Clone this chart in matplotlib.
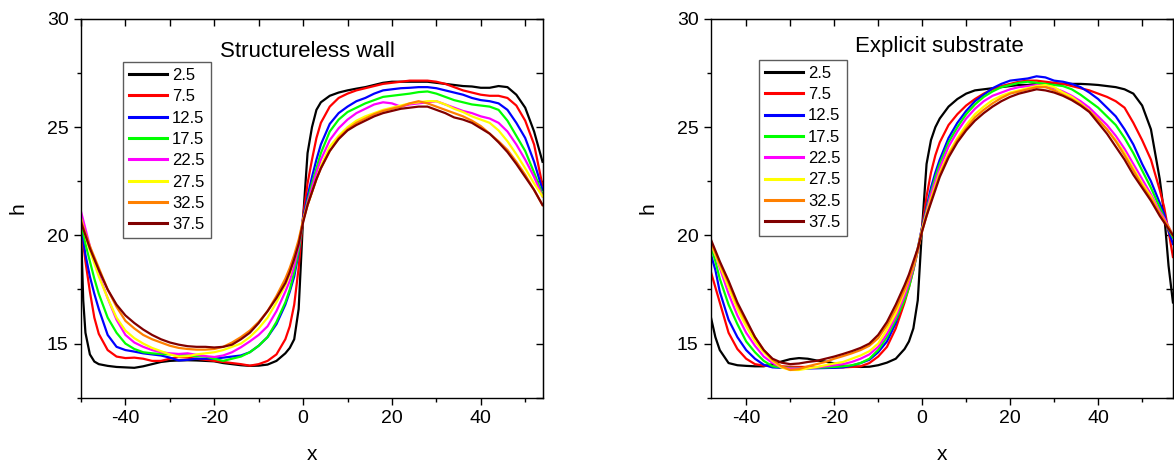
import matplotlib
matplotlib.use("Agg")
import matplotlib.pyplot as plt
from matplotlib.ticker import MultipleLocator

plt.rcParams['font.family'] = ['Liberation Sans', 'DejaVu Sans']
plt.rcParams['axes.unicode_minus'] = False

labels = ["2.5", "7.5", "12.5", "17.5", "22.5", "27.5", "32.5", "37.5"]
colors = ["#000000", "#ff0000", "#0000ff", "#00ff00", "#ff00ff", "#ffff00", "#ff8000", "#800000"]

# ---- structureless wall ----
x_wall = [-50, -49.5, -49, -48, -47, -46, -44, -42, -40, -38, -36, -34, -32, -30, -28, -26, -24, -22, -20,
          -18, -16, -14, -12, -10, -8, -6, -4, -3, -2, -1, 0, 1, 2, 3, 4, 6, 8, 10, 12, 14, 16, 18, 20,
          22, 24, 26, 28, 30, 32, 34, 36, 38, 40, 42, 44, 46, 48, 50, 52, 53.9]

wall_25 = [20.3, 17.0, 15.5, 14.5, 14.17, 14.05, 13.97, 13.92, 13.9, 13.88, 13.95, 14.05, 14.15, 14.2, 14.22,
           14.23, 14.22, 14.2, 14.18, 14.1, 14.05, 14.0, 13.97, 13.98, 14.03, 14.2, 14.55, 14.8, 15.2, 16.6,
           20.8, 23.8, 25.0, 25.8, 26.15, 26.45, 26.6, 26.7, 26.78, 26.85, 26.95, 27.05, 27.1, 27.1, 27.1,
           27.1, 27.1, 27.05, 27.0, 26.95, 26.9, 26.88, 26.82, 26.82, 26.9, 26.85, 26.5, 25.9, 24.8, 23.4]
wall_75 = [20.4, 19.6, 18.8, 17.4, 16.2, 15.45, 14.7, 14.4, 14.33, 14.35, 14.3, 14.2, 14.2, 14.3, 14.38,
           14.35, 14.3, 14.25, 14.2, 14.15, 14.1, 14.05, 13.98, 14.05, 14.2, 14.5, 15.2, 15.8, 16.8, 18.5,
           20.9, 22.4, 23.5, 24.5, 25.2, 25.95, 26.35, 26.55, 26.7, 26.8, 26.9, 27.0, 27.05, 27.1, 27.15,
           27.15, 27.15, 27.1, 27.0, 26.85, 26.7, 26.6, 26.5, 26.45, 26.45, 26.35, 26.0, 25.3, 24.2, 22.3]
wall_125 = [20.6, 19.8, 19.1, 18.1, 17.3, 16.6, 15.4, 14.85, 14.7, 14.63, 14.55, 14.5, 14.45, 14.35, 14.22,
            14.25, 14.3, 14.3, 14.3, 14.35, 14.4, 14.45, 14.6, 14.9, 15.3, 15.9, 16.8, 17.4, 18.1, 19.2,
            20.8, 21.8, 22.7, 23.5, 24.2, 25.15, 25.65, 25.95, 26.2, 26.35, 26.55, 26.7, 26.75, 26.8, 26.82,
            26.85, 26.85, 26.8, 26.7, 26.6, 26.5, 26.35, 26.25, 26.2, 26.1, 25.8, 25.2, 24.5, 23.4, 22.1]
wall_175 = [20.6, 20.1, 19.6, 18.8, 18.0, 17.3, 16.2, 15.5, 15.0, 14.75, 14.6, 14.55, 14.52, 14.5, 14.48,
            14.45, 14.42, 14.4, 14.3, 14.2, 14.3, 14.4, 14.6, 14.9, 15.3, 16.0, 16.9, 17.5, 18.3, 19.3,
            20.7, 21.6, 22.4, 23.1, 23.8, 24.8, 25.35, 25.7, 25.9, 26.1, 26.25, 26.4, 26.45, 26.5, 26.55,
            26.62, 26.65, 26.55, 26.4, 26.25, 26.15, 26.05, 26.0, 25.95, 25.8, 25.3, 24.6, 23.9, 22.9, 21.9]
wall_225 = [21.1, 20.7, 20.3, 19.5, 18.8, 18.2, 17.1, 16.1, 15.4, 15.05, 14.85, 14.7, 14.6, 14.55, 14.52,
            14.55, 14.48, 14.42, 14.38, 14.45, 14.6, 14.83, 15.1, 15.4, 15.8, 16.5, 17.4, 17.9, 18.6, 19.5,
            20.7, 21.5, 22.2, 22.9, 23.5, 24.4, 24.95, 25.35, 25.65, 25.85, 26.05, 26.15, 26.1, 25.95, 26.05,
            26.1, 26.15, 26.2, 26.05, 25.9, 25.75, 25.65, 25.5, 25.4, 25.2, 24.8, 24.2, 23.5, 22.7, 21.8]
wall_275 = [20.8, 20.4, 20.0, 19.3, 18.7, 18.1, 17.1, 16.2, 15.6, 15.25, 15.0, 14.8, 14.65, 14.5, 14.4,
            14.42, 14.5, 14.55, 14.6, 14.7, 14.85, 15.0, 15.3, 15.7, 16.2, 16.9, 17.7, 18.2, 18.9, 19.7,
            20.7, 21.4, 22.0, 22.6, 23.2, 24.1, 24.6, 25.0, 25.3, 25.5, 25.65, 25.8, 25.9, 26.0, 26.1,
            26.15, 26.2, 26.2, 26.05, 25.85, 25.7, 25.5, 25.35, 25.2, 24.85, 24.35, 23.75, 23.1, 22.4, 21.8]
wall_325 = [20.7, 20.4, 20.1, 19.5, 19.0, 18.5, 17.5, 16.7, 16.05, 15.7, 15.4, 15.2, 15.05, 14.9, 14.8,
            14.75, 14.72, 14.72, 14.75, 14.85, 15.05, 15.3, 15.6, 16.0, 16.5, 17.2, 18.0, 18.5, 19.1, 19.8,
            20.7, 21.4, 22.0, 22.6, 23.1, 23.9, 24.5, 24.9, 25.2, 25.4, 25.6, 25.75, 25.85, 25.95, 26.1,
            26.2, 26.1, 25.95, 25.8, 25.65, 25.5, 25.3, 25.05, 24.7, 24.35, 23.95, 23.4, 22.8, 22.1, 21.4]
wall_375 = [20.6, 20.3, 20.0, 19.4, 18.9, 18.4, 17.5, 16.8, 16.3, 15.95, 15.65, 15.4, 15.2, 15.05, 14.95,
            14.88, 14.85, 14.85, 14.82, 14.85, 14.95, 15.2, 15.5, 15.95, 16.5, 17.1, 17.8, 18.3, 18.9, 19.6,
            20.6, 21.4, 22.0, 22.6, 23.1, 23.9, 24.45, 24.85, 25.1, 25.3, 25.5, 25.65, 25.75, 25.85, 25.9,
            25.95, 25.95, 25.8, 25.65, 25.45, 25.35, 25.2, 24.95, 24.7, 24.3, 23.85, 23.3, 22.7, 22.1, 21.4]

# ---- explicit substrate ----
x_sub = [-48, -47, -46, -44, -42, -40, -38, -36, -34, -32, -30, -28, -26, -24, -22, -20, -18, -16, -14,
         -12, -10, -8, -6, -4, -3, -2, -1, 0, 1, 2, 3, 4, 6, 8, 10, 12, 14, 16, 18, 20, 22, 24, 26, 28,
         30, 32, 34, 36, 38, 40, 42, 44, 46, 48, 50, 52, 54, 55, 56, 57]

sub_25 = [16.2, 15.3, 14.7, 14.1, 14.0, 13.97, 13.95, 13.95, 14.05, 14.17, 14.28, 14.33, 14.3, 14.22, 14.17,
          14.08, 13.98, 13.95, 13.92, 13.93, 14.0, 14.12, 14.3, 14.75, 15.1, 15.7, 17.0, 20.4, 23.3, 24.4,
          25.0, 25.4, 25.95, 26.3, 26.55, 26.7, 26.75, 26.8, 26.85, 26.9, 26.95, 26.95, 27.0, 27.0, 27.0,
          27.0, 27.0, 27.0, 26.98, 26.95, 26.9, 26.85, 26.75, 26.55, 26.0, 24.9, 22.6, 21.0, 18.6, 16.9]
sub_75 = [18.3, 17.6, 16.9, 15.5, 14.75, 14.3, 14.05, 13.98, 13.95, 13.95, 13.93, 13.92, 13.92, 13.9, 13.9,
          13.9, 13.9, 13.92, 13.95, 14.1, 14.4, 14.85, 15.7, 16.9, 17.6, 18.4, 19.3, 20.4, 21.8, 22.9,
          23.7, 24.3, 25.1, 25.6, 26.0, 26.3, 26.55, 26.75, 26.9, 27.0, 27.1, 27.15, 27.15, 27.1, 27.05,
          27.0, 26.9, 26.8, 26.7, 26.55, 26.4, 26.2, 25.9, 25.2, 24.4, 23.5, 22.1, 21.3, 20.2, 19.0]
sub_125 = [19.1, 18.4, 17.4, 16.1, 15.3, 14.7, 14.3, 14.02, 13.9, 13.88, 13.87, 13.85, 13.85, 13.86, 13.87,
           13.88, 13.9, 13.98, 14.1, 14.25, 14.6, 15.1, 15.95, 17.2, 17.9, 18.6, 19.4, 20.4, 21.3, 22.2,
           22.9, 23.5, 24.5, 25.2, 25.75, 26.2, 26.5, 26.8, 27.0, 27.15, 27.2, 27.25, 27.35, 27.3, 27.15,
           27.1, 27.0, 26.85, 26.6, 26.3, 25.9, 25.5, 24.9, 24.2, 23.3, 22.5, 21.5, 21.0, 20.2, 19.6]
sub_175 = [19.5, 18.8, 18.0, 16.8, 15.9, 15.1, 14.6, 14.2, 13.95, 13.9, 13.88, 13.87, 13.87, 13.88, 13.9,
           13.92, 13.95, 14.0, 14.1, 14.3, 14.7, 15.3, 16.1, 17.0, 17.6, 18.4, 19.3, 20.3, 21.2, 22.0,
           22.7, 23.3, 24.3, 25.0, 25.6, 26.05, 26.4, 26.65, 26.85, 26.95, 27.05, 27.1, 27.05, 27.0, 26.95,
           26.9, 26.75, 26.5, 26.2, 25.9, 25.5, 25.1, 24.5, 23.8, 23.0, 22.2, 21.3, 20.8, 20.3, 19.9]
sub_225 = [19.6, 19.1, 18.5, 17.3, 16.3, 15.5, 14.9, 14.4, 14.1, 13.9, 13.85, 13.85, 13.87, 13.9, 13.95,
           14.0, 14.05, 14.15, 14.3, 14.5, 14.85, 15.45, 16.25, 17.2, 17.8, 18.5, 19.3, 20.3, 21.1, 21.9,
           22.5, 23.1, 24.1, 24.8, 25.4, 25.85, 26.2, 26.45, 26.6, 26.75, 26.85, 26.9, 26.95, 26.9, 26.8,
           26.65, 26.45, 26.2, 25.9, 25.5, 25.1, 24.6, 24.0, 23.3, 22.6, 21.9, 21.1, 20.8, 20.4, 20.0]
sub_275 = [19.6, 19.1, 18.6, 17.6, 16.6, 15.8, 15.1, 14.6, 14.2, 13.9, 13.78, 13.78, 13.85, 13.92, 14.0,
           14.08, 14.15, 14.3, 14.45, 14.65, 15.0, 15.65, 16.4, 17.4, 18.0, 18.6, 19.4, 20.3, 21.0, 21.7,
           22.3, 22.9, 23.8, 24.5, 25.1, 25.6, 25.95, 26.25, 26.45, 26.6, 26.7, 26.8, 26.9, 26.95, 26.85,
           26.6, 26.4, 26.1, 25.75, 25.35, 24.9, 24.4, 23.8, 23.1, 22.4, 21.8, 21.0, 20.7, 20.3, 20.0]
sub_325 = [19.7, 19.2, 18.7, 17.8, 16.8, 16.0, 15.3, 14.7, 14.25, 13.95, 13.78, 13.82, 13.95, 14.05, 14.15,
           14.3, 14.42, 14.55, 14.7, 14.9, 15.25, 15.85, 16.6, 17.5, 18.0, 18.6, 19.3, 20.2, 20.9, 21.6,
           22.2, 22.8, 23.7, 24.4, 24.95, 25.45, 25.8, 26.1, 26.35, 26.55, 26.65, 26.75, 26.85, 26.85, 26.7,
           26.5, 26.3, 26.05, 25.75, 25.35, 24.9, 24.35, 23.7, 23.0, 22.3, 21.7, 21.0, 20.7, 20.4, 20.0]
sub_375 = [19.8, 19.3, 18.8, 17.9, 16.9, 16.1, 15.3, 14.7, 14.3, 14.12, 14.05, 14.08, 14.15, 14.2, 14.3,
           14.4, 14.52, 14.65, 14.8, 15.0, 15.4, 16.0, 16.8, 17.7, 18.2, 18.8, 19.4, 20.2, 20.9, 21.5,
           22.1, 22.7, 23.6, 24.3, 24.85, 25.3, 25.65, 25.95, 26.2, 26.4, 26.55, 26.65, 26.75, 26.7, 26.6,
           26.45, 26.25, 26.0, 25.7, 25.2, 24.7, 24.1, 23.5, 22.8, 22.2, 21.6, 20.9, 20.6, 20.3, 20.0]

wall_series = [wall_25, wall_75, wall_125, wall_175, wall_225, wall_275, wall_325, wall_375]
sub_series = [sub_25, sub_75, sub_125, sub_175, sub_225, sub_275, sub_325, sub_375]


def draw_panel(ax, x, series, xlim, title, title_pos, leg_pos):
    for h, c, lab in zip(series, colors, labels):
        ax.plot(x, h, color=c, lw=1.6, label=lab)
    ax.set_xlim(*xlim)
    ax.set_ylim(12.5, 30)
    ax.xaxis.set_major_locator(MultipleLocator(20))
    ax.xaxis.set_minor_locator(MultipleLocator(10))
    ax.yaxis.set_major_locator(MultipleLocator(5))
    ax.yaxis.set_minor_locator(MultipleLocator(2.5))
    ax.tick_params(which='major', direction='out', length=5, width=1, labelsize=14, pad=4)
    ax.tick_params(which='minor', direction='out', length=3, width=1)
    for s in ax.spines.values():
        s.set_linewidth(1.0)

    # inward ticks on the top and right edges
    top = ax.secondary_xaxis('top')
    top.xaxis.set_major_locator(MultipleLocator(10))
    top.tick_params(direction='in', length=5, width=1, labeltop=False)
    right = ax.secondary_yaxis('right')
    right.yaxis.set_major_locator(MultipleLocator(2.5))
    right.tick_params(direction='in', length=5, width=1, labelright=False)

    ax.set_xlabel("x", fontsize=15)
    ax.set_ylabel("h", fontsize=15)
    ax.xaxis.label.set_va('center')
    ax.yaxis.label.set_va('center')
    ax.xaxis.set_label_coords(0.5, -0.15)
    ax.yaxis.set_label_coords(-0.137, 0.5)

    ax.text(title_pos[0], title_pos[1], title, transform=ax.transAxes,
            fontsize=16, ha='left', va='baseline')
    leg = ax.legend(loc='upper left', bbox_to_anchor=leg_pos, borderaxespad=0,
                    fontsize=12, frameon=True, fancybox=False, edgecolor='#333333',
                    handlelength=2.3, handletextpad=0.3, labelspacing=0.38, borderpad=0.35)
    leg.get_frame().set_linewidth(1.0)
    for line in leg.get_lines():
        line.set_linewidth(2.2)


fig = plt.figure(figsize=(11.74, 4.66), dpi=100)
ax1 = fig.add_axes([0.069, 0.1466, 0.3935, 0.8127])
ax2 = fig.add_axes([0.6056, 0.1466, 0.3935, 0.8127])

draw_panel(ax1, x_wall, wall_series, (-50, 54), "Structureless wall", (0.301, 0.90), (0.091, 0.886))
draw_panel(ax2, x_sub, sub_series, (-48, 57), "Explicit substrate", (0.312, 0.913), (0.104, 0.892))

fig.savefig("out.png", dpi=100)
